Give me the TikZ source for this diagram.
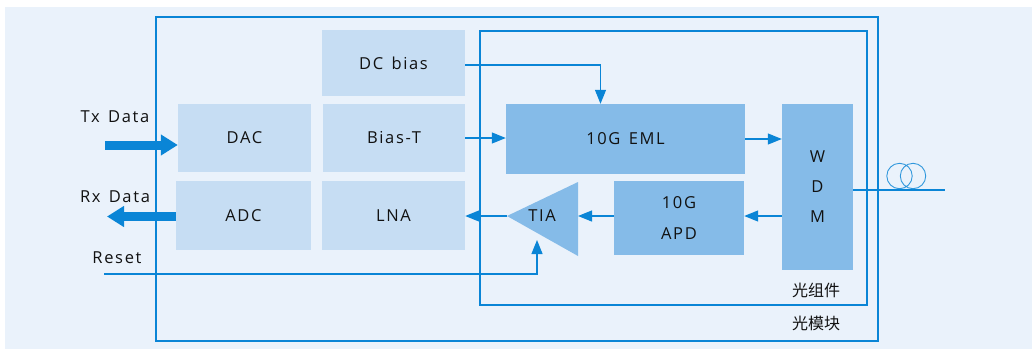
\documentclass[tikz,border=0pt]{standalone}
\usepackage{fontspec}
\setmainfont{Open Sans}[LetterSpace=10,WordSpace=1.4]
\newfontfamily\cjk{Noto Sans CJK SC}
\usetikzlibrary{arrows.meta}

\definecolor{modBack}{HTML}{EAF2FB}
\definecolor{modLine}{HTML}{0A85D6}
\definecolor{modLight}{HTML}{C6DDF3}
\definecolor{modDark}{HTML}{85BBE8}
\definecolor{modText}{HTML}{111111}

\begin{document}
\begin{tikzpicture}[x=1pt,y=-1pt,font=\fontsize{16.5}{19}\selectfont,
  lightbox/.style={fill=modLight,text=modText,inner sep=0pt},
  darkbox/.style={fill=modDark,text=modText,inner sep=0pt},
  frame/.style={draw=modLine,line width=1.4pt},
  link/.style={draw=modLine,line width=1.2pt,-{Triangle[length=14pt,width=11pt]}},
  bigarrow/.style={draw=modLine,line width=9pt,-{Triangle[length=17pt,width=20pt]}},
  label/.style={text=modText}]

  \useasboundingbox (0,0) rectangle (1032,349);
  \fill[modBack] (5,7) rectangle (1032,349);

  % Frames
  \draw[frame] (156,17) rectangle (878,341);
  \draw[frame] (480,31) rectangle (867,305);
  \node[label,font=\cjk\fontsize{16}{19}\selectfont] (assembly) at (816,290) {光组件};
  \node[label,font=\cjk\fontsize{16}{19}\selectfont] (module) at (816,323) {光模块};

  % Electrical blocks
  \node[lightbox,minimum width=143pt,minimum height=66pt] (dcbias) at (393.5,63) {DC bias};
  \node[lightbox,minimum width=133pt,minimum height=68pt] (dac) at (244.5,138) {DAC};
  \node[lightbox,minimum width=142pt,minimum height=68pt] (biast) at (394,138) {Bias-T};
  \node[lightbox,minimum width=135pt,minimum height=69pt] (adc) at (243.5,215.5) {ADC};
  \node[lightbox,minimum width=143pt,minimum height=69pt] (lna) at (393.5,215.5) {LNA};

  % Optical blocks
  \node[darkbox,minimum width=239pt,minimum height=70pt] (eml) at (625.5,139) {10G EML};
  \node[darkbox,minimum width=71pt,minimum height=166pt,align=center,
        font=\fontsize{16.5}{30}\selectfont] (wdm) at (817.5,187) {W\\D\\M};
  \node[darkbox,minimum width=130pt,minimum height=74pt,align=center,
        font=\fontsize{16.5}{31}\selectfont] (apd) at (679,218) {10G\\APD};

  % TIA
  \coordinate (tiatip) at (507,216);
  \coordinate (tiaback) at (578,216);
  \coordinate (tiabase) at (537,240);
  \fill[modDark] (tiatip) -- (578,182) -- (578,256) -- cycle;
  \node[label] (tia) at (542,216) {TIA};

  % Data lines
  \coordinate (txstart) at (105,145);
  \coordinate (rxend) at (107,216.5);
  \coordinate (rststart) at (104,274);
  \node[label] (txlabel) at (115,117) {Tx Data};
  \node[label] (rxlabel) at (115,197) {Rx Data};
  \node[label] (rstlabel) at (117,258) {Reset};
  \draw[bigarrow] (txstart) -- (txstart -| dac.west);
  \draw[bigarrow] (rxend -| adc.west) -- (rxend);
  \draw[link] (rststart) -| (tiabase);

  % Signal path
  \draw[link] ([yshift=-2pt]dcbias.east) -| ([xshift=-25pt]eml.north);
  \draw[link] (biast.east) -- (biast.east -| eml.west);
  \draw[link] (eml.east) -- (eml.east -| wdm.west);
  \draw[link] (wdm.west |- tiatip) -- (apd.east |- tiatip);
  \draw[link] (apd.west |- tiatip) -- (tiaback);
  \draw[link] (tiatip) -- (tiatip -| lna.east);

  % Fiber
  \coordinate (fiberend) at (945,190);
  \draw[modLine,line width=1.2pt] (wdm.east |- fiberend) -- (fiberend);
  \draw[modLine!85,line width=0.9pt] (899.5,176) circle (12.7pt) (913,176) circle (12.7pt);

\end{tikzpicture}
\end{document}
